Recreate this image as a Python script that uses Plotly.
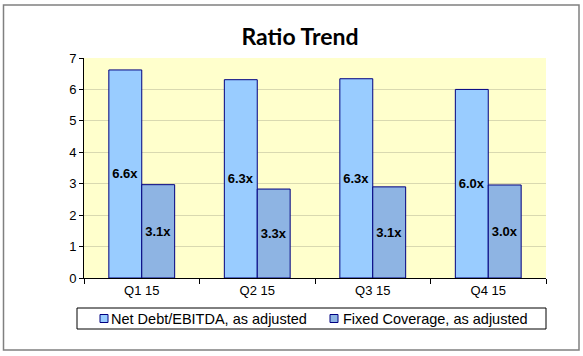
import plotly.graph_objects as go

categories = ["Q1 15", "Q2 15", "Q3 15", "Q4 15"]
net_debt = [6.62, 6.31, 6.34, 6.0]
fixed_cov = [2.97, 2.83, 2.9, 2.96]
net_debt_labels = ["6.6x", "6.3x", "6.3x", "6.0x"]
fixed_cov_labels = ["3.1x", "3.3x", "3.1x", "3.0x"]
series_names = ["Net Debt/EBITDA, as adjusted", "Fixed Coverage, as adjusted"]
series_colors = ["#99CCFF", "#8EB4E3"]

W, H = 583, 356
L, R, T, B = 84, 37, 58, 78
PW, PH = W - L - R, H - T - B


def px(x):
    return (x - L) / PW


def py(y):
    return (H - B - y) / PH


label_font = dict(family="Liberation Sans, Arial", size=13, color="#000000", weight="bold")

fig = go.Figure()
for vals, labels, name, color in [(net_debt, net_debt_labels, series_names[0], series_colors[0]),
                                  (fixed_cov, fixed_cov_labels, series_names[1], series_colors[1])]:
    fig.add_trace(go.Bar(
        x=categories, y=vals, name=name,
        text=labels, textposition="inside", insidetextanchor="middle",
        textfont=label_font, showlegend=False, hoverinfo="skip",
        marker=dict(color=color, line=dict(color="#000080", width=1)),
    ))

shapes = [
    # legend box
    dict(type="rect", xref="paper", yref="paper", x0=px(77), x1=px(546), y0=py(308), y1=py(329),
         line=dict(color="#000000", width=1), fillcolor="white"),
    # outer chart border
    dict(type="rect", xref="paper", yref="paper", x0=px(3.5), x1=px(579), y0=py(5), y1=py(350),
         line=dict(color="#808080", width=1.5), fillcolor="rgba(0,0,0,0)"),
]
annotations = []
legend_items = [(100, 109), (330, 341)]
for (sx, tx), name, color in zip(legend_items, series_names, series_colors):
    shapes.append(dict(type="rect", xref="paper", yref="paper", x0=px(sx), x1=px(sx + 8),
                       y0=py(322.5), y1=py(314.5), line=dict(color="#000080", width=1), fillcolor=color))
    annotations.append(dict(text=name, xref="paper", yref="paper", x=px(tx), y=py(318.5),
                            xanchor="left", yanchor="middle", showarrow=False,
                            font=dict(family="Liberation Sans, Arial", size=14.5, color="#000000")))

fig.update_layout(
    width=W, height=H,
    margin=dict(l=L, r=R, t=T, b=B),
    paper_bgcolor="white",
    plot_bgcolor="#FFFFCC",
    barmode="group", bargap=0.43, bargroupgap=0,
    title=dict(text="<b>Ratio Trend</b>", xref="container", x=300 / W, xanchor="center",
               yref="container", y=1 - 37 / H, yanchor="middle",
               font=dict(family="Lato, Open Sans, sans-serif", size=23, color="#000000")),
    font=dict(family="Liberation Sans, Arial", size=13, color="#000000"),
    showlegend=False,
    shapes=shapes,
    annotations=annotations,
)

fig.update_yaxes(range=[0, 7], dtick=1, showgrid=True, gridcolor="#D9D9B0", gridwidth=1,
                 showline=True, linecolor="#000000", linewidth=1,
                 ticks="outside", ticklen=4, tickcolor="#000000",
                 zeroline=False, tickfont=dict(size=13))
fig.update_xaxes(showline=True, linecolor="#000000", linewidth=1,
                 ticks="outside", ticklen=5, tickcolor="#000000", tickson="boundaries",
                 tickfont=dict(size=13))

fig.write_html("out.html", config={"displayModeBar": False},
               post_script="document.body.style.margin='0';document.body.style.overflow='hidden';")
